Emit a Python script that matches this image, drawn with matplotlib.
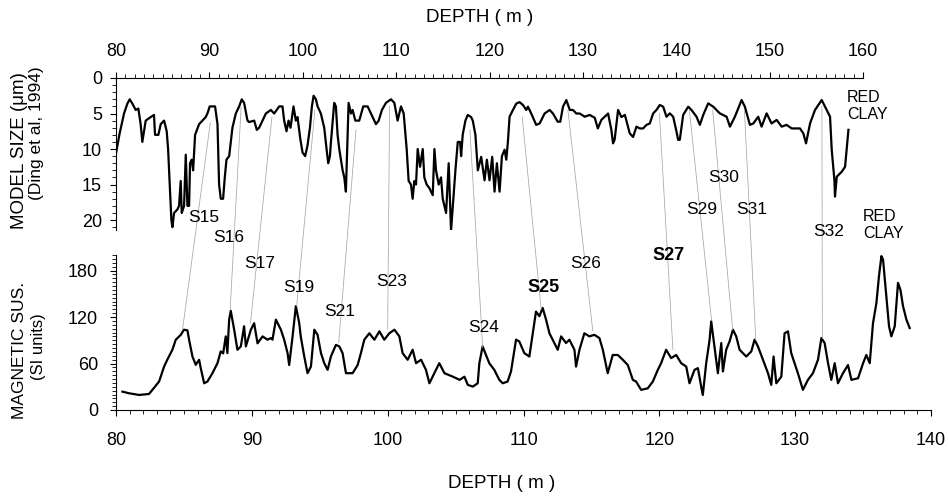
import numpy as np
import matplotlib.pyplot as plt
from matplotlib.patches import ConnectionPatch
from matplotlib.ticker import MultipleLocator

plt.rcParams['font.family'] = ['Liberation Sans', 'DejaVu Sans']

# model grain size (Ding et al, 1994), depth in m on the upper scale
size_depth = [80.0, 80.39, 80.86, 81.22, 81.47, 81.75, 82.11, 82.39, 82.64, 82.82,
              83.18, 83.72, 84.07, 84.18, 84.54, 84.79, 85.15, 85.43, 85.58, 85.75,
              85.93, 86.04, 86.22, 86.58, 86.75, 86.93, 87.04, 87.29, 87.47, 87.65,
              87.83, 87.93, 88.11, 88.26, 88.47, 88.61, 88.9, 89.26, 89.61, 89.79,
              90.04, 90.61, 90.87, 91.04, 91.22, 91.47, 91.65, 91.83, 92.12, 92.47,
              92.83, 93.19, 93.47, 93.72, 94.08, 94.26, 94.8, 95.08, 95.33, 95.69,
              96.05, 96.58, 96.94, 97.48, 97.83, 98.01, 98.26, 98.48, 98.69, 99.01,
              99.26, 99.44, 99.73, 99.98, 100.26, 100.51, 100.77, 100.98, 101.16, 101.41,
              101.59, 101.94, 102.3, 102.55, 102.73, 102.91, 103.02, 103.37, 103.55, 103.73,
              103.91, 104.27, 104.45, 104.62, 104.91, 105.16, 105.34, 105.63, 106.05, 106.48,
              106.95, 107.48, 107.84, 108.13, 108.48, 108.91, 109.45, 109.81, 110.16, 110.52,
              110.81, 111.13, 111.34, 111.59, 111.77, 111.95, 112.13, 112.31, 112.56, 112.85,
              113.02, 113.27, 113.56, 113.92, 114.1, 114.27, 114.56, 114.81, 114.99, 115.35,
              115.63, 115.88, 116.13, 116.35, 116.6, 116.85, 116.96, 117.13, 117.42, 117.67,
              118.03, 118.21, 118.49, 118.75, 119.11, 119.47, 119.72, 120.0, 120.29, 120.54,
              120.79, 121.08, 121.33, 121.61, 121.8, 121.97, 122.15, 122.51, 122.87, 123.22,
              123.58, 123.94, 124.12, 124.47, 125.0, 125.37, 125.9, 126.44, 126.8, 127.3,
              127.58, 127.87, 128.23, 128.6, 128.94, 129.3, 129.66, 130.2, 130.73, 131.27,
              131.6, 131.98, 132.34, 132.7, 133.05, 133.23, 133.4, 133.77, 134.13, 134.5,
              135.02, 135.38, 135.74, 136.09, 136.45, 136.81, 137.17, 137.52, 137.88, 138.24,
              138.6, 138.95, 139.31, 139.67, 140.02, 140.2, 140.38, 140.74, 141.28, 141.63,
              142.17, 142.53, 142.89, 143.42, 143.96, 144.67, 145.39, 145.75, 146.28, 147.0,
              147.35, 147.89, 148.25, 148.78, 149.14, 149.68, 150.21, 150.75, 151.29, 151.82,
              152.36, 153.25, 153.61, 153.9, 154.33, 154.86, 155.58, 156.29, 156.47, 156.65,
              156.94, 157.0, 157.19, 157.72, 158.08, 158.44]
size_um = [10.6, 7.8, 5.0, 3.6, 3.0, 3.6, 4.5, 4.3, 6.5, 9.0,
           6.0, 5.5, 5.2, 8.0, 8.0, 6.5, 6.0, 7.5, 10.0, 15.0,
           20.0, 21.0, 19.0, 18.5, 18.0, 14.5, 19.0, 18.0, 10.8, 18.0,
           18.0, 12.0, 11.5, 13.0, 8.0, 7.5, 6.5, 6.0, 5.5, 5.0,
           4.0, 4.0, 6.5, 15.0, 17.0, 17.0, 14.0, 11.5, 11.0, 7.0,
           5.0, 4.0, 3.0, 3.5, 6.0, 6.2, 6.0, 7.3, 7.0, 6.0,
           5.0, 4.5, 5.0, 4.0, 4.0, 6.0, 7.5, 6.0, 7.0, 4.0,
           6.0, 5.5, 8.5, 10.5, 11.0, 9.5, 7.0, 4.0, 2.5, 3.0,
           4.0, 5.0, 7.0, 10.0, 12.0, 11.0, 9.0, 3.5, 4.0, 8.0,
           10.0, 13.0, 14.0, 16.0, 3.5, 5.0, 4.5, 6.0, 6.0, 4.0,
           4.0, 5.5, 6.5, 6.0, 4.5, 3.5, 3.0, 3.5, 6.0, 4.0,
           5.0, 10.0, 14.5, 15.0, 17.0, 14.5, 15.0, 10.0, 12.5, 10.0,
           14.0, 15.0, 15.5, 16.5, 10.0, 13.0, 15.0, 14.0, 17.0, 19.0,
           12.0, 21.5, 17.0, 13.0, 9.0, 9.0, 11.0, 8.0, 6.0, 5.2,
           5.5, 6.0, 8.0, 13.0, 11.1, 14.4, 11.5, 14.4, 11.1, 16.0,
           12.0, 16.0, 11.0, 10.1, 11.5, 9.0, 5.45, 4.5, 3.6, 3.4,
           3.8, 4.5, 4.04, 5.0, 6.6, 6.4, 5.0, 4.5, 5.0, 6.15,
           6.15, 4.04, 3.1, 4.5, 4.5, 5.0, 5.0, 5.45, 5.2, 5.6,
           7.1, 5.9, 5.45, 5.0, 7.3, 9.2, 8.7, 4.5, 5.5, 5.2,
           7.8, 8.3, 6.85, 7.1, 7.1, 6.6, 6.4, 5.0, 4.5, 3.8,
           4.04, 5.45, 4.98, 5.45, 7.5, 8.7, 8.7, 5.2, 4.04, 4.5,
           5.45, 6.6, 5.2, 3.57, 4.04, 4.98, 5.45, 6.85, 5.45, 3.1,
           4.04, 6.6, 6.4, 5.45, 6.85, 4.98, 6.4, 5.9, 6.85, 6.6,
           7.1, 7.1, 7.8, 9.2, 6.4, 4.5, 3.1, 4.98, 5.45, 10.1,
           14.4, 16.7, 13.9, 13.2, 12.5, 7.3]

# magnetic susceptibility, depth in m on the lower scale
mag_depth = [80.47, 80.96, 81.7, 82.43, 82.68, 83.17, 83.54, 83.78, 84.15, 84.4,
             84.77, 85.0, 85.26, 85.38, 85.63, 85.87, 86.12, 86.24, 86.49, 86.73,
             87.1, 87.47, 87.71, 87.89, 88.08, 88.2, 88.33, 88.45, 88.7, 88.94,
             89.19, 89.43, 89.56, 89.93, 90.17, 90.42, 90.79, 91.15, 91.4, 91.52,
             91.77, 92.14, 92.38, 92.63, 92.75, 93.0, 93.24, 93.49, 93.6, 93.86,
             94.1, 94.35, 94.6, 94.84, 95.09, 95.33, 95.58, 95.82, 96.19, 96.44,
             96.68, 96.93, 97.42, 97.79, 98.03, 98.28, 98.65, 99.02, 99.39, 99.75,
             100.12, 100.5, 100.86, 101.1, 101.47, 101.84, 102.09, 102.46, 102.82, 103.07,
             103.44, 103.8, 104.18, 104.8, 105.3, 105.65, 105.9, 106.27, 106.63, 106.75,
             106.99, 107.24, 107.48, 107.85, 108.22, 108.47, 108.83, 109.08, 109.45, 109.69,
             110.06, 110.43, 110.68, 110.92, 111.17, 111.41, 111.66, 111.91, 112.15, 112.52,
             112.77, 113.13, 113.38, 113.75, 113.87, 114.12, 114.48, 114.85, 115.22, 115.59,
             115.84, 116.2, 116.57, 116.94, 117.31, 117.68, 118.05, 118.29, 118.66, 119.15,
             119.52, 119.89, 120.13, 120.5, 120.87, 121.24, 121.61, 121.98, 122.22, 122.59,
             122.84, 123.08, 123.2, 123.45, 123.7, 123.82, 124.06, 124.31, 124.56, 124.68,
             124.92, 125.17, 125.42, 125.66, 125.91, 126.4, 126.77, 127.01, 127.26, 127.63,
             128.0, 128.24, 128.41, 128.61, 128.98, 129.22, 129.47, 129.71, 129.96, 130.2,
             130.57, 130.94, 131.31, 131.68, 131.93, 132.17, 132.42, 132.66, 132.91, 133.15,
             133.52, 133.89, 134.14, 134.63, 135.0, 135.24, 135.49, 135.73, 135.98, 136.17,
             136.35, 136.47, 136.67, 136.91, 137.08, 137.33, 137.57, 137.75, 137.94, 138.19,
             138.43]
mag_sus = [23.7, 21.6, 19.4, 20.7, 26.0, 36.7, 56.0, 65.0, 77.7, 90.7,
           97.0, 103.6, 102.8, 90.7, 69.0, 58.3, 64.8, 54.0, 34.5, 36.7,
           47.5, 60.4, 75.6, 73.0, 95.0, 73.4, 116.6, 128.0, 103.6, 77.7,
           82.0, 108.0, 82.0, 103.6, 112.0, 86.0, 95.0, 90.7, 92.8, 90.7,
           116.6, 103.6, 90.7, 73.4, 58.0, 95.0, 134.0, 112.0, 95.0, 69.0,
           47.5, 56.0, 103.6, 97.0, 73.4, 60.4, 51.8, 69.0, 84.0, 82.0,
           73.4, 47.5, 47.5, 58.0, 73.4, 90.7, 99.0, 90.7, 101.5, 90.7,
           99.0, 103.6, 95.0, 73.4, 64.8, 77.7, 60.4, 64.8, 51.8, 34.5,
           47.5, 60.4, 47.5, 43.0, 38.9, 43.0, 32.4, 30.2, 34.5, 60.4,
           82.0, 71.0, 60.4, 51.8, 38.9, 34.5, 36.7, 49.7, 90.7, 88.5,
           73.4, 69.0, 99.0, 127.0, 121.0, 131.7, 116.6, 99.0, 90.7, 77.7,
           95.0, 86.4, 90.7, 77.7, 56.0, 77.7, 99.0, 95.0, 97.0, 92.8,
           77.7, 47.5, 71.0, 71.0, 64.8, 58.0, 38.9, 36.7, 26.0, 28.0,
           36.7, 51.8, 60.4, 77.7, 67.0, 71.0, 60.4, 56.0, 34.5, 51.8,
           54.0, 30.2, 19.4, 60.4, 90.7, 114.4, 82.0, 47.5, 86.4, 49.7,
           77.7, 88.5, 103.6, 95.0, 77.7, 69.0, 75.6, 90.7, 82.0, 64.8,
           47.5, 32.4, 69.0, 34.5, 43.0, 99.0, 101.5, 73.4, 60.4, 47.5,
           26.0, 38.9, 47.5, 64.8, 92.8, 86.4, 60.4, 38.9, 60.4, 34.5,
           47.5, 58.0, 38.9, 41.0, 60.4, 71.0, 60.4, 112.0, 138.0, 172.7,
           198.6, 194.0, 155.0, 108.0, 95.0, 108.0, 164.0, 155.0, 134.0, 116.6,
           105.8]

# palaeosol correlations: depth/size on the upper record, depth/sus on the lower record
soil_names = ['S15', 'S16', 'S17', 'S19', 'S21', 'S23', 'S24', 'S25', 'S26', 'S27',
              'S29', 'S30', 'S31', 'S32']
soil_top_depth = [90.1, 93.4, 96.7, 101.3, 105.7, 109.3, 117.9, 123.5, 128.4, 138.2,
                  141.4, 143.9, 147.3, 155.6]
soil_top_size = [6.3, 4.1, 5.5, 4.5, 7.3, 4.0, 7.3, 5.5, 4.5, 5.0,
                 4.5, 4.5, 4.5, 4.0]
soil_mag_depth = [84.9, 88.4, 89.9, 93.3, 96.4, 100.0, 107.0, 111.3, 115.1, 121.0,
                  123.85, 125.4, 127.1, 132.0]
soil_mag_sus = [104, 128, 112, 134, 87, 104, 80, 130, 102, 78,
                115, 103, 90, 92]

# label placement in figure pixels (x centre, y centre) and weight
label_px = [(204, 218), (229, 238), (260, 263), (299, 287), (340, 312), (392, 282),
            (484, 327), (544, 288), (586, 263), (669, 255), (702, 210), (724, 177),
            (752, 210), (829, 232)]
bold_names = ['S25', 'S27']

W, H = 948, 496
fig = plt.figure(figsize=(W / 100, H / 100), dpi=100)

def fx(px):
    return px / W

def fy(py):
    return 1 - py / H

# upper panel: grain size
ax1 = fig.add_axes([fx(116), fy(230), (863 - 116) / W, 152 / H])
ax1.plot(size_depth, size_um, color='black', lw=1.6)
ax1.set_xlim(80, 160)
ax1.set_ylim(21.4, 0)
ax1.xaxis.tick_top()
ax1.spines['bottom'].set_visible(False)
ax1.spines['right'].set_visible(False)
ax1.xaxis.set_major_locator(MultipleLocator(10))
ax1.xaxis.set_minor_locator(MultipleLocator(1))
ax1.yaxis.set_major_locator(MultipleLocator(5))
ax1.yaxis.set_minor_locator(MultipleLocator(1))
ax1.tick_params(axis='x', which='major', length=4, width=0.8, pad=9, labelsize=13)
ax1.tick_params(axis='x', which='minor', length=3, width=0.6)
ax1.tick_params(axis='y', which='major', length=4, width=0.8, pad=6, labelsize=13)
ax1.tick_params(axis='y', which='minor', length=3, width=0.6)
ax1.patch.set_alpha(0)

# lower panel: magnetic susceptibility
ax2 = fig.add_axes([fx(116), fy(410), (931 - 116) / W, 155 / H])
ax2.plot(mag_depth, mag_sus, color='black', lw=1.6)
ax2.set_xlim(80, 140)
ax2.set_ylim(0, 200)
ax2.spines['top'].set_visible(False)
ax2.spines['right'].set_visible(False)
ax2.xaxis.set_major_locator(MultipleLocator(10))
ax2.xaxis.set_minor_locator(MultipleLocator(1))
ax2.yaxis.set_minor_locator(MultipleLocator(5))
ax2.set_yticks([0, 60, 120, 180])
ax2.tick_params(axis='x', which='major', length=4, width=0.8, pad=12, labelsize=13)
ax2.tick_params(axis='x', which='minor', length=3, width=0.6)
ax2.tick_params(axis='y', which='major', length=4, width=0.8, pad=9, labelsize=13)
ax2.tick_params(axis='y', which='minor', length=3, width=0.6)
ax2.patch.set_alpha(0)

# correlation lines between the two records
for td, ts, md, ms in zip(soil_top_depth, soil_top_size, soil_mag_depth, soil_mag_sus):
    con = ConnectionPatch(xyA=(td, ts), coordsA=ax1.transData,
                          xyB=(md, ms), coordsB=ax2.transData,
                          color='#a0a0a0', lw=0.6, linestyle=(0, (1.5, 1)))
    fig.add_artist(con)

for name, (px, py) in zip(soil_names, label_px):
    bold = name in bold_names
    fig.text(fx(px), fy(py), name, ha='center', va='center',
             fontsize=13 if bold else 12.5,
             fontweight='bold' if bold else 'normal')

fig.text(fx(847), fy(106), 'RED\nCLAY', ha='left', va='center', fontsize=11.5,
         linespacing=1.15)
fig.text(fx(863), fy(225), 'RED\nCLAY', ha='left', va='center', fontsize=11.5,
         linespacing=1.15)

# axis titles
fig.text(fx(480), fy(17), 'DEPTH ( m )', ha='center', va='center', fontsize=13.5)
fig.text(fx(502), fy(483), 'DEPTH ( m )', ha='center', va='center', fontsize=13.5)
fig.text(fx(20), fy(151), 'MODEL SIZE (μm)', rotation=90, ha='center', va='center',
         fontsize=13.5)
fig.text(fx(37), fy(133), '(Ding et al, 1994)', rotation=90, ha='center', va='center',
         fontsize=12.5)
fig.text(fx(20), fy(350), 'MAGNETIC SUS.', rotation=90, ha='center', va='center',
         fontsize=12.5)
fig.text(fx(38), fy(347), '(SI units)', rotation=90, ha='center', va='center',
         fontsize=12)

fig.savefig('out.png', dpi=100)
